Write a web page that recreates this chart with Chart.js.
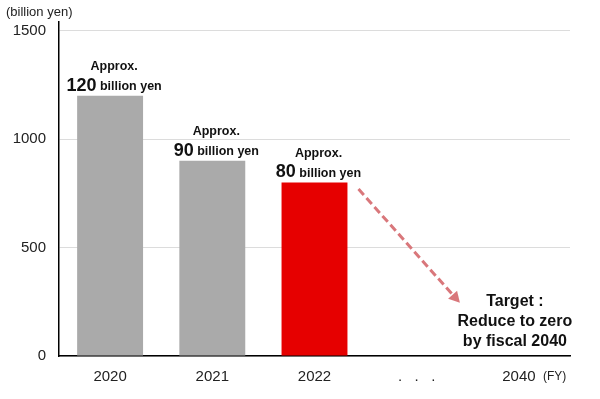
<!DOCTYPE html>
<html>
<head>
<meta charset="utf-8">
<script src="https://cdn.jsdelivr.net/npm/chart.js@4.4.1/dist/chart.umd.min.js"></script>
<style>
  html, body { margin: 0; padding: 0; background: #fff; }
  #wrap { width: 600px; height: 399px; }
</style>
</head>
<body>
<div id="wrap"><canvas id="chart" width="600" height="399"></canvas></div>
<script>
"use strict";

// данные
var years = ["2020", "2021", "2022", ".   .   .", "2040"];
var amounts = [1200, 900, 800, null, null];
var barLabels = ["120", "90", "80", null, null];
var barColors = ["#aaaaaa", "#aaaaaa", "#e60000", "#aaaaaa", "#aaaaaa"];
var yTicks = [0, 500, 1000, 1500];
var targetLines = ["Target :", "Reduce to zero", "by fiscal 2040"];

var FONT = "'Liberation Sans', Arial, sans-serif";

var extras = {
    id: "extras",
    afterDatasetsDraw: function (chart) {
        var ctx = chart.ctx,
            x = chart.scales.x,
            y = chart.scales.y,
            meta = chart.getDatasetMeta(0);

        ctx.save();
        ctx.fillStyle = "#111";
        ctx.textBaseline = "middle";

        // подписи над столбцами
        meta.data.forEach(function (bar, i) {
            if (amounts[i] == null) return;
            var cx = bar.x + 4,
                top = bar.y;
            ctx.font = "bold 12.5px " + FONT;
            ctx.textAlign = "center";
            ctx.fillText("Approx.", cx, top - 29);

            ctx.font = "bold 18px " + FONT;
            var w1 = ctx.measureText(barLabels[i]).width;
            ctx.font = "bold 12.5px " + FONT;
            var w2 = ctx.measureText(" billion yen").width;
            var start = cx - (w1 + w2) / 2;
            ctx.textAlign = "left";
            ctx.font = "bold 18px " + FONT;
            ctx.fillText(barLabels[i], start, top - 10);
            ctx.font = "bold 12.5px " + FONT;
            ctx.fillText(" billion yen", start + w1, top - 9);
        });

        // цель
        var tx = x.getPixelForValue(4) - 4;
        ctx.font = "bold 16px " + FONT;
        ctx.textAlign = "center";
        targetLines.forEach(function (t, i) {
            ctx.fillText(t, tx, 302 + i * 20);
        });

        // стрелка
        var x0 = x.getPixelForValue(2) + 44,
            y0 = y.getPixelForValue(770),
            x1 = x.getPixelForValue(4) - 59,
            y1 = y.getPixelForValue(245);
        var ang = Math.atan2(y1 - y0, x1 - x0);
        ctx.strokeStyle = "#d9777b";
        ctx.fillStyle = "#d9777b";
        ctx.lineWidth = 3;
        ctx.setLineDash([8, 4]);
        ctx.beginPath();
        ctx.moveTo(x0, y0);
        ctx.lineTo(x1 - 7 * Math.cos(ang), y1 - 7 * Math.sin(ang));
        ctx.stroke();
        ctx.setLineDash([]);
        ctx.beginPath();
        ctx.moveTo(x1, y1);
        ctx.lineTo(x1 - 11 * Math.cos(ang) + 6 * Math.sin(ang), y1 - 11 * Math.sin(ang) - 6 * Math.cos(ang));
        ctx.lineTo(x1 - 11 * Math.cos(ang) - 6 * Math.sin(ang), y1 - 11 * Math.sin(ang) + 6 * Math.cos(ang));
        ctx.closePath();
        ctx.fill();

        // единицы
        ctx.fillStyle = "#222";
        ctx.font = "13px " + FONT;
        ctx.textAlign = "left";
        ctx.fillText("(billion yen)", 6, 12);
        ctx.font = "12px " + FONT;
        ctx.fillText("(FY)", 543, 377);
        ctx.restore();
    }
};

var chart = new Chart(document.getElementById("chart"), {
    type: "bar",
    data: {
        labels: years,
        datasets: [{
            data: amounts,
            backgroundColor: barColors,
            barPercentage: 0.645,
            categoryPercentage: 1
        }]
    },
    options: {
        responsive: false,
        devicePixelRatio: 1,
        animation: false,
        layout: {
            padding: { left: 0, right: 30, top: 22, bottom: 0 }
        },
        plugins: {
            legend: { display: false },
            tooltip: { enabled: false }
        },
        scales: {
            x: {
                grid: { display: false },
                border: { color: "#000", width: 1.5 },
                ticks: {
                    color: "#222",
                    padding: 4,
                    maxRotation: 0,
                    font: { family: FONT, size: 15 }
                },
                afterFit: function (scale) { scale.height = 43; }
            },
            y: {
                min: 0,
                max: 1540,
                afterBuildTicks: function (axis) {
                    axis.ticks = yTicks.map(function (v) { return { value: v }; });
                },
                grid: { color: "#dcdcdc", drawTicks: false },
                border: { color: "#000", width: 1.5 },
                ticks: {
                    color: "#222",
                    padding: 13,
                    font: { family: FONT, size: 15 },
                    callback: function (v) { return String(v); }
                },
                afterFit: function (scale) { scale.width = 59; }
            }
        }
    },
    plugins: [extras]
});
</script>
</body>
</html>
